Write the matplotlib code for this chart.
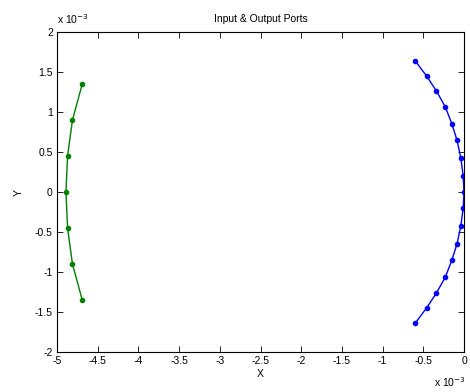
import matplotlib
matplotlib.use("Agg")
import matplotlib.pyplot as plt

plt.rcParams['font.family'] = ['Liberation Sans', 'DejaVu Sans']

# values in units of 1e-3
green_x = [-4.69, -4.81, -4.87, -4.89, -4.87, -4.81, -4.69]
green_y = [1.35, 0.90, 0.45, 0.0, -0.45, -0.90, -1.35]

blue_x = [-0.60, -0.46, -0.34, -0.23, -0.15, -0.085, -0.04, -0.01, 0.0,
          -0.01, -0.04, -0.085, -0.15, -0.23, -0.34, -0.46, -0.60]
blue_y = [1.64, 1.45, 1.265, 1.065, 0.855, 0.645, 0.43, 0.205, 0.0,
          -0.205, -0.43, -0.645, -0.855, -1.065, -1.265, -1.45, -1.64]

xticks = [-5, -4.5, -4, -3.5, -3, -2.5, -2, -1.5, -1, -0.5, 0]
yticks = [-2, -1.5, -1, -0.5, 0, 0.5, 1, 1.5, 2]

fig = plt.figure(figsize=(4.7, 3.92), dpi=100)
ax = fig.add_axes([57/470, 40/392, (464-57)/470, (352-32)/392])

ax.plot(green_x, green_y, '-', color='#008000', lw=1, marker='o', ms=3)
ax.plot(blue_x, blue_y, '-', color='#0000ff', lw=1, marker='o', ms=3)

ax.set_xlim(-5, 0)
ax.set_ylim(-2, 2)
ax.set_xticks(xticks)
ax.set_yticks(yticks)
ax.set_xticklabels([('%g' % t) for t in xticks])
ax.set_yticklabels([('%g' % t) for t in yticks])
ax.tick_params(direction='in', top=True, right=True, length=4, width=0.6,
               labelsize=7.5, pad=3)
for s in ax.spines.values():
    s.set_linewidth(0.8)

ax.set_title('Input & Output Ports', fontsize=7.5, pad=7)
ax.set_xlabel('X', fontsize=7.5, labelpad=2)
ax.set_ylabel('Y', fontsize=7.5, labelpad=8)

fig.text(57/470, 1 - 19/392, r'x 10$^{-3}$', fontsize=7.5, ha='left', va='center')
fig.text(1 - 4/470, 1 - 382/392, r'x 10$^{-3}$', fontsize=7.5, ha='right', va='center')

fig.savefig('out.png', dpi=100)
